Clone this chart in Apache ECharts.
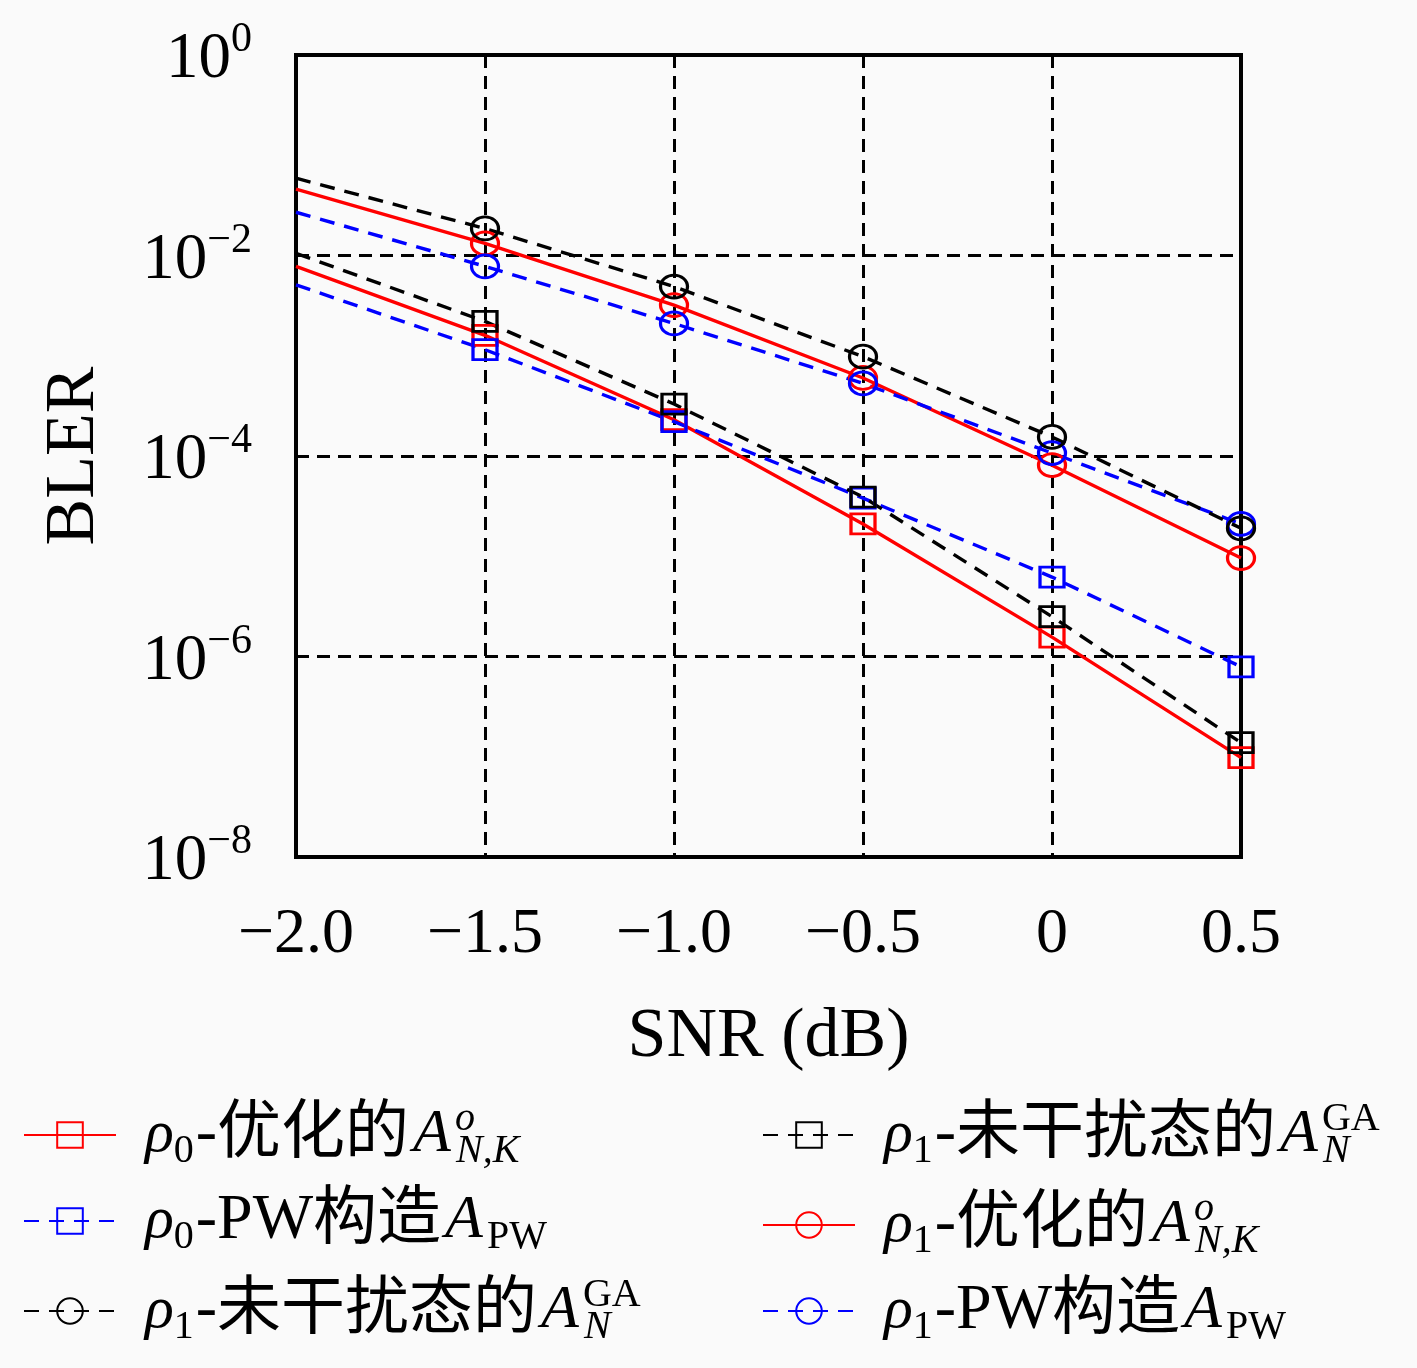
<!DOCTYPE html>
<html>
<head>
<meta charset="utf-8">
<script src="https://cdn.jsdelivr.net/npm/echarts@6/dist/echarts.min.js"></script>
<style>
  html, body { margin: 0; padding: 0; background: #fafafa; }
  #main { width: 1417px; height: 1368px; }
</style>
</head>
<body>
<div id="main"></div>
<script>
// 数据
const snr = [-2.0, -1.5, -1.0, -0.5, 0, 0.5]
const xTickLabels = ['−2.0', '−1.5', '−1.0', '−0.5', '0', '0.5']

const optRho0 = [7.8e-3, 1.6e-3, 2.3e-4, 2.1e-5, 1.56e-6, 9.8e-8]
const pwRho0 = [5.1e-3, 1.15e-3, 2.2e-4, 3.8e-5, 6.2e-6, 7.9e-7]
const gaRho1Ci = [5.9e-2, 1.86e-2, 4.9e-3, 9.8e-4, 1.55e-4, 1.9e-5]
const gaRho1Sq = [1.05e-2, 2.2e-3, 3.3e-4, 3.9e-5, 2.5e-6, 1.38e-7]
const optRho1 = [4.6e-2, 1.32e-2, 3.2e-3, 6.0e-4, 8.1e-5, 9.6e-6]
const pwRho1 = [2.7e-2, 7.8e-3, 2.1e-3, 5.3e-4, 1.07e-4, 2.1e-5]

// 图例文字（富文本：上下标）
const legendLabels = {
  optRho0: '{r|ρ}{rs|0}{t|-优化的}{a|A}{sp|o}{sb|N,K}',
  pwRho0: '{r|ρ}{rs|0}{t|-PW构造}{a|A}{sbr|PW}',
  gaRho1Ci: '{r|ρ}{rs|1}{t|-未干扰态的}{a|A}{spr|GA}{sb|N}',
  gaRho1Sq: '{r|ρ}{rs|1}{t|-未干扰态的}{a|A}{spr|GA}{sb|N}',
  optRho1: '{r|ρ}{rs|1}{t|-优化的}{a|A}{sp|o}{sb|N,K}',
  pwRho1: '{r|ρ}{rs|1}{t|-PW构造}{a|A}{sbr|PW}',
}

const serif = '"Liberation Serif", "Noto Sans CJK SC", serif'
const RED = '#ff0000'
const BLUE = '#0000ff'
const BLACK = '#000000'

function makeSeries(name, values, color, symbol, dashed) {
  const size = symbol === 'circle' ? [27, 23] : [24, 20]
  return {
    name,
    type: 'line',
    symbol,
    symbolSize: size,
    showAllSymbol: true,
    data: values.map((v, i) =>
      i === 0 ? { value: [snr[i], v], symbol: 'none' } : [snr[i], v],
    ),
    lineStyle: { color, width: 3.4, type: dashed ? [15, 10] : 'solid' },
    itemStyle: { color: 'none', borderColor: color, borderWidth: 3 },
    emphasis: { disabled: true },
  }
}

const rich = {
  r: { fontFamily: serif, fontStyle: 'italic', fontSize: 60, lineHeight: 72, padding: [0, 0, 0, 24] },
  rs: { fontFamily: serif, fontSize: 40, lineHeight: 40, verticalAlign: 'bottom', padding: [0, 2, 0, 0] },
  t: { fontFamily: serif, fontSize: 64, lineHeight: 72 },
  a: { fontFamily: serif, fontStyle: 'italic', fontSize: 62, lineHeight: 72, padding: [0, 4, 0, 4] },
  sp: { fontFamily: serif, fontStyle: 'italic', fontSize: 40, lineHeight: 40, verticalAlign: 'top', width: 1 },
  spr: { fontFamily: serif, fontSize: 40, lineHeight: 40, verticalAlign: 'top', width: 1 },
  sb: { fontFamily: serif, fontStyle: 'italic', fontSize: 40, lineHeight: 40, verticalAlign: 'bottom' },
  sbr: { fontFamily: serif, fontSize: 40, lineHeight: 40, verticalAlign: 'bottom' },
}

const legendBase = {
  orient: 'vertical',
  top: 1094,
  itemWidth: 92,
  itemHeight: 32,
  itemGap: 18,
  selectedMode: false,
  formatter: (name) => legendLabels[name],
  textStyle: { color: BLACK, rich },
}

const gridDash = { color: BLACK, width: 3, type: [13, 8] }

const chart = echarts.init(document.getElementById('main'))
chart.setOption({
  backgroundColor: '#fafafa',
  animation: false,
  grid: {
    left: 296,
    right: 176,
    top: 55,
    bottom: 511,
    show: true,
    borderColor: BLACK,
    borderWidth: 4,
    backgroundColor: 'transparent',
  },
  xAxis: {
    type: 'value',
    min: -2,
    max: 0.5,
    interval: 0.5,
    name: 'SNR (dB)',
    nameLocation: 'middle',
    nameGap: 146,
    nameTextStyle: { fontFamily: serif, fontSize: 70, color: BLACK },
    axisLine: { show: true, onZero: false, lineStyle: { color: BLACK, width: 4 } },
    axisTick: { show: false },
    axisLabel: {
      margin: 46,
      fontFamily: serif,
      fontSize: 64,
      color: BLACK,
      formatter: (v) => xTickLabels[snr.indexOf(v)] ?? '',
    },
    splitLine: { show: true, lineStyle: gridDash },
  },
  yAxis: {
    type: 'log',
    logBase: 10,
    min: 1e-8,
    max: 1,
    interval: 2,
    name: 'BLER',
    nameLocation: 'middle',
    nameGap: 186,
    nameRotate: 90,
    nameTextStyle: { fontFamily: serif, fontSize: 70, color: BLACK },
    axisLine: { show: true, onZero: false, lineStyle: { color: BLACK, width: 4 } },
    axisTick: { show: false },
    axisLabel: {
      margin: 44,
      color: BLACK,
      formatter: (v) => {
        const e = Math.round(Math.log10(v))
        return '{b|10}{s|' + (e < 0 ? '−' + -e : e) + '}'
      },
      rich: {
        b: { fontFamily: serif, fontSize: 65, lineHeight: 72, padding: [10, 0, 0, 0], color: BLACK },
        s: { fontFamily: serif, fontSize: 42, lineHeight: 50, verticalAlign: 'top', color: BLACK },
      },
    },
    splitLine: { show: true, lineStyle: gridDash },
  },
  legend: [
    { ...legendBase, left: 18, data: ['optRho0', 'pwRho0', 'gaRho1Ci'] },
    { ...legendBase, left: 757, data: ['gaRho1Sq', 'optRho1', 'pwRho1'] },
  ],
  series: [
    makeSeries('optRho0', optRho0, RED, 'rect', false),
    makeSeries('pwRho0', pwRho0, BLUE, 'rect', true),
    makeSeries('gaRho1Sq', gaRho1Sq, BLACK, 'rect', true),
    makeSeries('optRho1', optRho1, RED, 'circle', false),
    makeSeries('pwRho1', pwRho1, BLUE, 'circle', true),
    makeSeries('gaRho1Ci', gaRho1Ci, BLACK, 'circle', true),
  ],
})
</script>
</body>
</html>
